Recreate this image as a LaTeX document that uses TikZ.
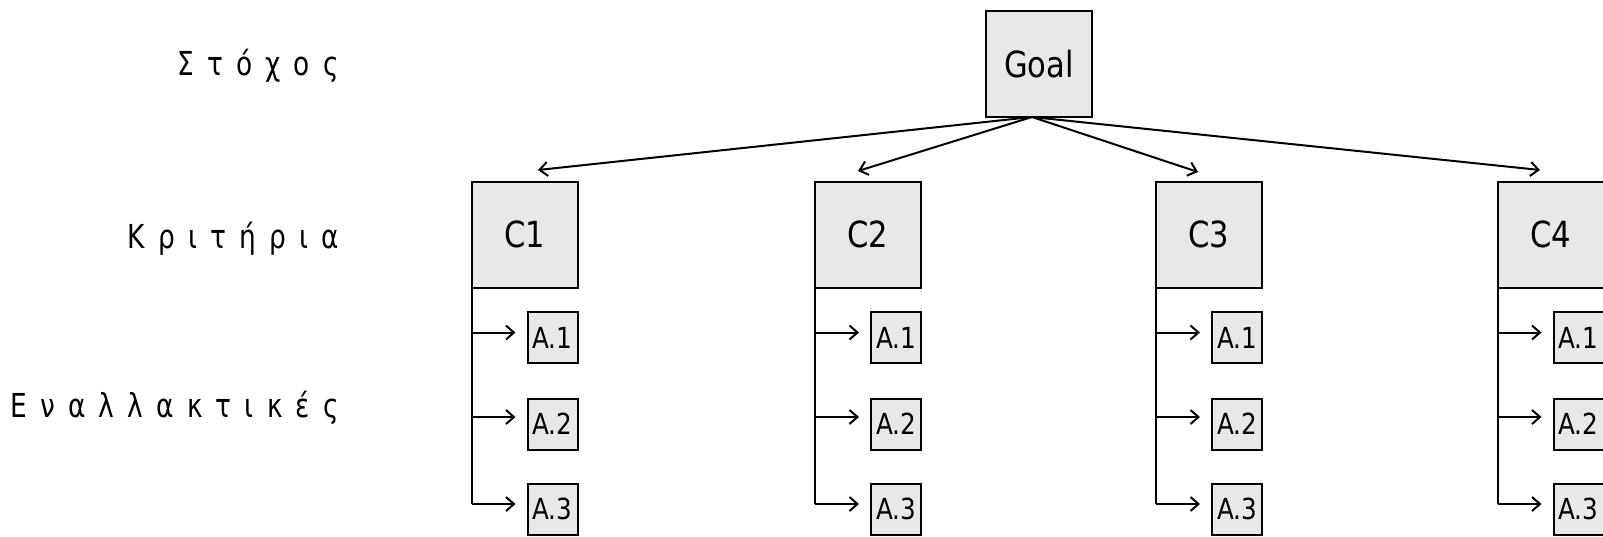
\documentclass[tikz,border=0pt]{standalone}
\usepackage{fontspec}
\setmainfont{DejaVu Sans}
\newfontfamily\boxfont[FakeStretch=0.85]{DejaVu Sans}
\newfontfamily\grkfont[FakeStretch=0.8,LetterSpace=40]{DejaVu Sans}
\usetikzlibrary{arrows.meta,calc}
\definecolor{boxgray}{HTML}{E8E8E8}
\begin{document}
\begin{tikzpicture}[x=1pt,y=-1pt,
  box/.style={draw=black,line width=2pt,fill=boxgray,inner sep=0pt,outer sep=0pt},
  cbox/.style={box,minimum width=106pt,minimum height=106pt,font=\boxfont\fontsize{36}{40}\selectfont},
  abox/.style={box,minimum width=50pt,minimum height=51pt,font=\boxfont\fontsize{29}{32}\selectfont},
  conn/.style={line width=2pt,-{Straight Barb[length=8pt,width=14pt,line width=2pt]}},
  line/.style={line width=2pt},
  lab/.style={anchor=base east,inner sep=0pt,font=\grkfont\fontsize{33}{36}\selectfont}]
\clip (0,0) rectangle (1603,536);
\useasboundingbox (0,0) rectangle (1603,536);

% level labels
\node[lab] (l1) at (339,75) {Στόχος};
\node[lab] (l2) at (339,248) {Κριτήρια};
\node[lab] (l3) at (339,417) {Εναλλακτικές};

% goal
\node[cbox] (goal) at (1039,64) {Goal};
\coordinate (gs) at (1032,117);

% criteria
\node[cbox] (c1) at (524.5,234.5) {C1};
\node[cbox] (c2) at (868,234.5) {C2};
\node[cbox] (c3) at (1209,234.5) {C3};
\node[cbox] (c4) at (1550.5,234.5) {C4};

\coordinate (t1) at (538,170);
\coordinate (t2) at (858,171);
\coordinate (t3) at (1198,172);
\coordinate (t4) at (1540,170);
\foreach \i in {1,2,3,4} \draw[conn] (gs) -- (t\i);

% alternatives
\foreach \c/\x in {c1/524.5,c2/868,c3/1209,c4/1550.5}{
  \node[abox] (\c a1) at (\x+28,337.5) {A.1};
  \node[abox] (\c a2) at (\x+28,424) {A.2};
  \node[abox] (\c a3) at (\x+28,509) {A.3};
  \coordinate (\c r1) at ($(\c a1.west)+(-12,-5)$);
  \coordinate (\c r2) at ($(\c a2.west)+(-12,-7)$);
  \coordinate (\c r3) at ($(\c a3.west)+(-12,-5)$);
  \draw[line] (\c.south west) -- (\c.south west |- \c r3);
  \draw[conn] (\c.south west |- \c r1) -- (\c r1);
  \draw[conn] (\c.south west |- \c r2) -- (\c r2);
  \draw[conn] (\c.south west |- \c r3) -- (\c r3);
}
\end{tikzpicture}
\end{document}
